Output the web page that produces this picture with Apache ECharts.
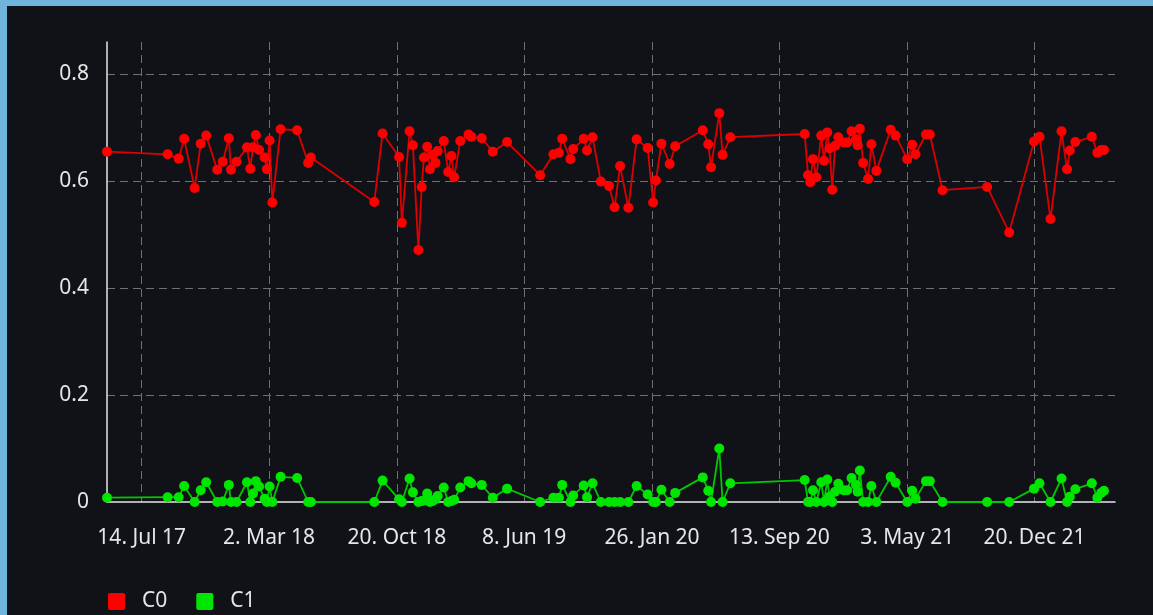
<!DOCTYPE html>
<html lang="en">
<head>
    <meta charset="UTF-8">
    <title>C0 / C1</title>
    <script src="https://cdn.jsdelivr.net/npm/echarts@6/dist/echarts.min.js"></script>
    <style>
        html, body {
            margin: 0;
            padding: 0;
            background: #6fb4da;
        }
        #chart {
            position: absolute;
            left: 7px;
            top: 6px;
            width: 1146px;
            height: 609px;
            background: #111218;
        }
    </style>
</head>
<body>
<div id="chart"></div>
<script>
    // sample dates (one per point, shared by both series)
    var dates = [
        '2017-05-12', '2017-08-30', '2017-09-19', '2017-09-29', '2017-10-18', '2017-10-29', '2017-11-08', '2017-11-28',
        '2017-12-08', '2017-12-19', '2017-12-23', '2018-01-02', '2018-01-21', '2018-01-27', '2018-02-01', '2018-02-06',
        '2018-02-12', '2018-02-22', '2018-02-26', '2018-03-03', '2018-03-08', '2018-03-23', '2018-04-22', '2018-05-12',
        '2018-05-17', '2018-09-09', '2018-09-24', '2018-10-24', '2018-10-29', '2018-11-12', '2018-11-18', '2018-11-28',
        '2018-12-04', '2018-12-08', '2018-12-14', '2018-12-19', '2018-12-24', '2018-12-29', '2019-01-02', '2019-01-13',
        '2019-01-21', '2019-01-27', '2019-02-01', '2019-02-12', '2019-02-27', '2019-03-04', '2019-03-23', '2019-04-12',
        '2019-05-08', '2019-07-07', '2019-07-31', '2019-08-10', '2019-08-16', '2019-08-31', '2019-09-05', '2019-09-24',
        '2019-09-30', '2019-10-10', '2019-10-25', '2019-11-09', '2019-11-19', '2019-11-29', '2019-12-14', '2019-12-29',
        '2020-01-18', '2020-01-28', '2020-02-02', '2020-02-12', '2020-02-27', '2020-03-08', '2020-04-27', '2020-05-07',
        '2020-05-12', '2020-05-27', '2020-06-02', '2020-06-16', '2020-10-29', '2020-11-04', '2020-11-08', '2020-11-13',
        '2020-11-19', '2020-11-28', '2020-12-03', '2020-12-09', '2020-12-13', '2020-12-18', '2020-12-23', '2020-12-29',
        '2021-01-07', '2021-01-14', '2021-01-22', '2021-01-30', '2021-02-02', '2021-02-06', '2021-02-12', '2021-02-21',
        '2021-02-27', '2021-03-08', '2021-04-03', '2021-04-12', '2021-05-03', '2021-05-12', '2021-05-18', '2021-06-06',
        '2021-06-13', '2021-07-06', '2021-09-25', '2021-11-04', '2021-12-19', '2021-12-29', '2022-01-18', '2022-02-07',
        '2022-02-17', '2022-02-22', '2022-03-04', '2022-04-03', '2022-04-13', '2022-04-20', '2022-04-25'
    ];

    var c0 = [
        0.655, 0.650, 0.642, 0.679, 0.587, 0.670, 0.685, 0.621,
        0.636, 0.680, 0.621, 0.636, 0.663, 0.623, 0.663, 0.686,
        0.658, 0.644, 0.622, 0.676, 0.560, 0.697, 0.695, 0.634,
        0.644, 0.561, 0.689, 0.645, 0.522, 0.693, 0.667, 0.471,
        0.589, 0.644, 0.664, 0.622, 0.649, 0.634, 0.656, 0.675,
        0.617, 0.647, 0.607, 0.675, 0.687, 0.683, 0.680, 0.655,
        0.673, 0.611, 0.650, 0.653, 0.679, 0.641, 0.660, 0.679,
        0.657, 0.682, 0.599, 0.591, 0.551, 0.628, 0.550, 0.678,
        0.662, 0.560, 0.601, 0.670, 0.632, 0.665, 0.695, 0.669,
        0.626, 0.727, 0.649, 0.682, 0.688, 0.611, 0.598, 0.641,
        0.607, 0.685, 0.638, 0.691, 0.661, 0.584, 0.666, 0.682,
        0.672, 0.672, 0.693, 0.678, 0.667, 0.698, 0.634, 0.604,
        0.669, 0.619, 0.696, 0.685, 0.641, 0.668, 0.650, 0.687,
        0.687, 0.583, 0.589, 0.504, 0.674, 0.683, 0.529, 0.693,
        0.622, 0.657, 0.673, 0.683, 0.653, 0.658, 0.658
    ];

    var c1 = [
        0.008, 0.009, 0.009, 0.030, 0.000, 0.022, 0.037, 0.000,
        0.001, 0.032, 0.000, 0.000, 0.037, 0.000, 0.016, 0.039,
        0.029, 0.006, 0.000, 0.029, 0.000, 0.047, 0.045, 0.000,
        0.000, 0.000, 0.040, 0.005, 0.000, 0.044, 0.018, 0.000,
        0.002, 0.003, 0.016, 0.000, 0.002, 0.005, 0.011, 0.027,
        0.000, 0.002, 0.004, 0.027, 0.039, 0.035, 0.032, 0.008,
        0.025, 0.000, 0.008, 0.008, 0.032, 0.000, 0.012, 0.031,
        0.009, 0.035, 0.000, 0.000, 0.000, 0.000, 0.000, 0.030,
        0.014, 0.000, 0.000, 0.023, 0.000, 0.017, 0.046, 0.021,
        0.000, 0.100, 0.000, 0.035, 0.041, 0.000, 0.000, 0.022,
        0.000, 0.037, 0.000, 0.042, 0.010, 0.000, 0.019, 0.034,
        0.022, 0.022, 0.045, 0.032, 0.019, 0.059, 0.000, 0.000,
        0.030, 0.000, 0.047, 0.036, 0.000, 0.021, 0.006, 0.039,
        0.039, 0.000, 0.000, 0.000, 0.025, 0.035, 0.000, 0.044,
        0.000, 0.010, 0.024, 0.035, 0.008, 0.017, 0.021
    ];

    var tickDates = ['2017-07-14', '2018-03-02', '2018-10-20', '2019-06-08',
        '2020-01-26', '2020-09-13', '2021-05-03', '2021-12-20'];
    var monthNames = ['Jan', 'Feb', 'Mar', 'Apr', 'May', 'Jun', 'Jul', 'Aug', 'Sep', 'Oct', 'Nov', 'Dec'];
    var axisStart = '2017-05-12';
    var axisEnd = '2022-05-15';

    function ts(s) { return Date.parse(s); }

    function pairs(vals) {
        return dates.map(function (d, i) { return [ts(d), vals[i]]; });
    }

    var textColor = '#e6e6e6';
    var font = '"Noto Sans", "Open Sans", sans-serif';
    // square legend swatch with slightly rounded corners
    var swatch = 'path://M2,0H15A2,2 0 0 1 17,2V15A2,2 0 0 1 15,17H2A2,2 0 0 1 0,15V2A2,2 0 0 1 2,0Z';

    var myChart = echarts.init(document.getElementById('chart'));
    myChart.setOption({
        backgroundColor: '#111218',
        animation: false,
        grid: { left: 100, right: 38, top: 36, bottom: 113 },
        legend: {
            left: 96,
            top: 580,
            itemWidth: 17,
            itemHeight: 17,
            itemGap: 29,
            icon: swatch,
            textStyle: { color: textColor, fontSize: 21, fontFamily: font, padding: [0, 0, 0, 12] },
            data: ['C0', 'C1']
        },
        xAxis: {
            // timestamps on a plain value axis so the tick dates can be fixed
            type: 'value',
            min: ts(axisStart),
            max: ts(axisEnd),
            axisLine: { show: true, lineStyle: { color: '#e6e6e6', width: 1.5 } },
            axisTick: { show: false, customValues: tickDates.map(ts) },
            axisLabel: {
                customValues: tickDates.map(ts),
                color: textColor,
                fontSize: 21,
                fontFamily: font,
                margin: 26,
                formatter: function (v) {
                    var d = new Date(v);
                    return d.getUTCDate() + '. ' + monthNames[d.getUTCMonth()] + ' ' +
                        String(d.getUTCFullYear()).slice(2);
                }
            },
            splitLine: {
                show: true,
                lineStyle: { color: '#707070', type: [8, 5], width: 1 }
            }
        },
        yAxis: {
            type: 'value',
            min: 0,
            max: 0.86,
            interval: 0.2,
            axisLine: { show: true, lineStyle: { color: '#e6e6e6', width: 1.5 } },
            axisTick: { show: false },
            axisLabel: {
                color: textColor,
                fontSize: 21,
                fontFamily: font,
                margin: 18,
                showMaxLabel: false
            },
            splitLine: {
                show: true,
                showMinLine: false,
                showMaxLine: false,
                lineStyle: { color: '#707070', type: [8, 5], width: 1 }
            }
        },
        series: [{
            name: 'C0',
            type: 'line',
            data: pairs(c0),
            symbol: 'circle',
            symbolSize: 10,
            itemStyle: { color: '#ff0000' },
            lineStyle: { color: '#dd0000', width: 1.8 }
        }, {
            name: 'C1',
            type: 'line',
            data: pairs(c1),
            symbol: 'circle',
            symbolSize: 10,
            itemStyle: { color: '#00e600' },
            lineStyle: { color: '#00c800', width: 1.8 }
        }]
    });
</script>
</body>
</html>
